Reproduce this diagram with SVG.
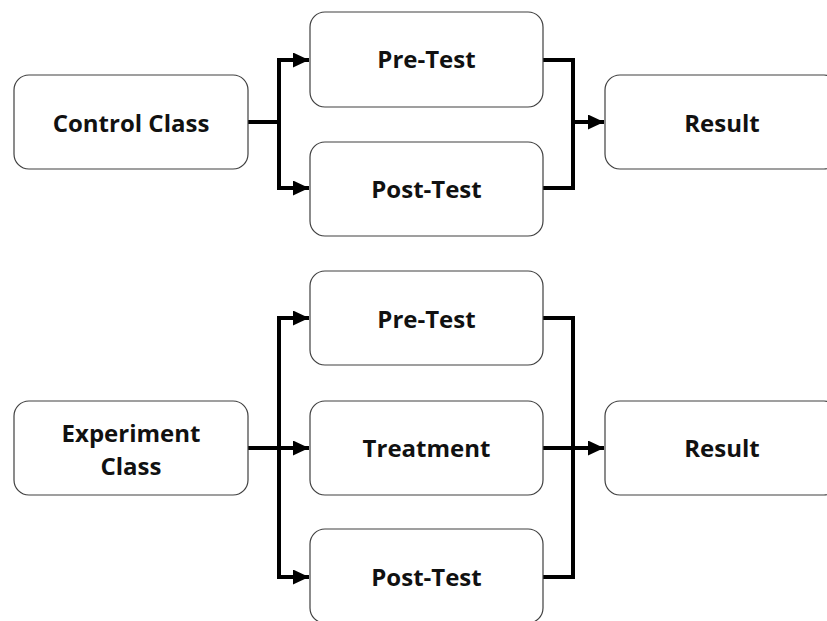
<svg xmlns="http://www.w3.org/2000/svg" width="827" height="621" viewBox="0 0 827 621">
<style>
.box{fill:#fff;stroke:#404040;stroke-width:1.2}
.lbl{font-family:"Open Sans","Liberation Sans",sans-serif;font-weight:bold;font-size:24px;fill:#111;text-anchor:middle;dominant-baseline:central}
.ln{fill:none;stroke:#000;stroke-width:4;stroke-linejoin:miter}
</style>
<defs>
<marker id="ah" markerUnits="userSpaceOnUse" markerWidth="18" markerHeight="16" refX="16" refY="7.5" orient="auto">
<path d="M0,0 L16,7.5 L0,15 Z" fill="#000"/>
</marker>
</defs>
<rect width="827" height="621" fill="#fff"/>
<g id="connectors">
<path class="ln" d="M248,122 H279"/>
<path class="ln" d="M279,60 V188"/>
<path class="ln" d="M277,60 H309" marker-end="url(#ah)"/>
<path class="ln" d="M277,188 H309" marker-end="url(#ah)"/>
<path class="ln" d="M543,60 H573 V188 H543"/>
<path class="ln" d="M573,122 H604" marker-end="url(#ah)"/>
<path class="ln" d="M248,448 H279"/>
<path class="ln" d="M279,318 V577"/>
<path class="ln" d="M277,318 H309" marker-end="url(#ah)"/>
<path class="ln" d="M277,448 H309" marker-end="url(#ah)"/>
<path class="ln" d="M277,577 H309" marker-end="url(#ah)"/>
<path class="ln" d="M543,318 H573 V577 H543"/>
<path class="ln" d="M543,448 H573"/>
<path class="ln" d="M573,448 H604" marker-end="url(#ah)"/>
</g>
<g id="control-class"><rect class="box" x="14" y="75" width="234" height="94" rx="15"/><text class="lbl" x="131" y="122">Control Class</text></g>
<g id="pre-test-1"><rect class="box" x="310" y="12" width="233" height="95" rx="15"/><text class="lbl" x="426.5" y="58">Pre-Test</text></g>
<g id="post-test-1"><rect class="box" x="310" y="142" width="233" height="94" rx="15"/><text class="lbl" x="426.5" y="188">Post-Test</text></g>
<g id="result-1"><rect class="box" x="605" y="75" width="234" height="94" rx="15"/><text class="lbl" x="722" y="122">Result</text></g>
<g id="experiment-class"><rect class="box" x="14" y="401" width="234" height="94" rx="15"/><text class="lbl" x="131" y="432">Experiment</text><text class="lbl" x="131" y="465">Class</text></g>
<g id="pre-test-2"><rect class="box" x="310" y="271" width="233" height="94" rx="15"/><text class="lbl" x="426.5" y="318">Pre-Test</text></g>
<g id="treatment"><rect class="box" x="310" y="401" width="233" height="94" rx="15"/><text class="lbl" x="426.5" y="447">Treatment</text></g>
<g id="post-test-2"><rect class="box" x="310" y="529" width="233" height="94" rx="15"/><text class="lbl" x="426.5" y="576">Post-Test</text></g>
<g id="result-2"><rect class="box" x="605" y="401" width="234" height="94" rx="15"/><text class="lbl" x="722" y="447">Result</text></g>
</svg>
